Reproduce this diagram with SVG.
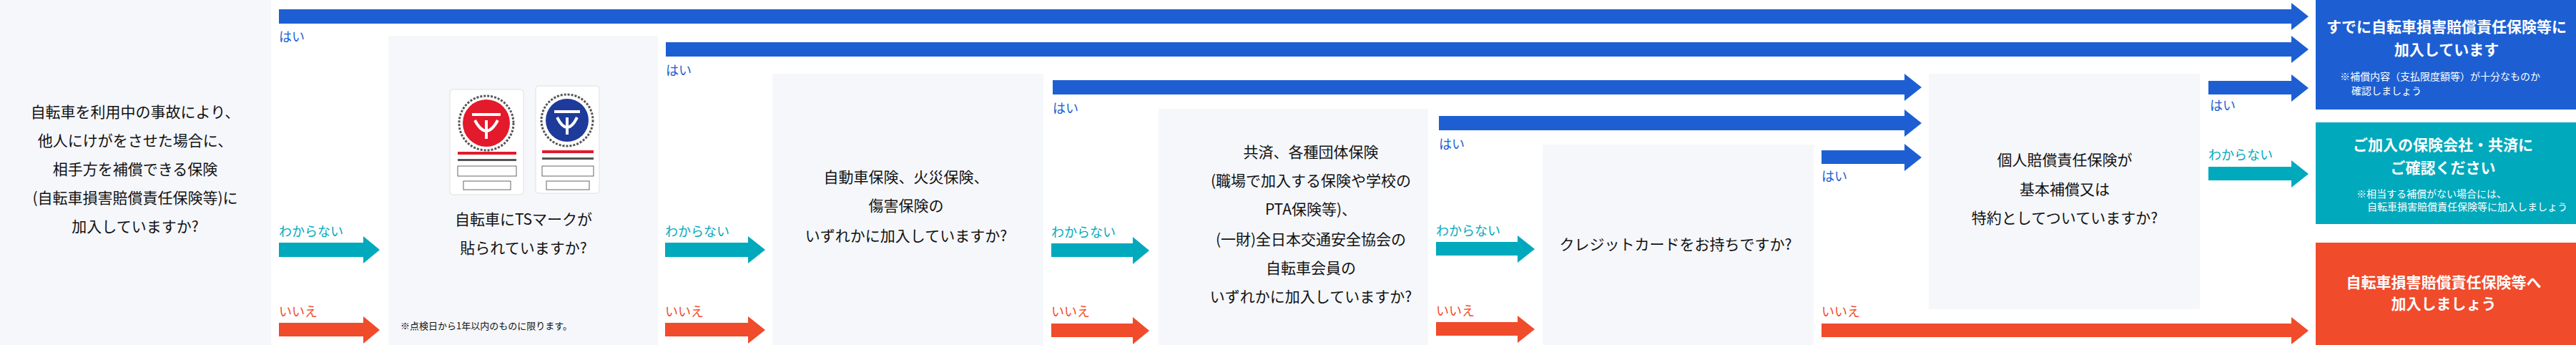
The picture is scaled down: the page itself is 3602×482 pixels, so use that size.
<svg xmlns="http://www.w3.org/2000/svg" width="3602" height="482" viewBox="0 0 3602 482">
<defs>
<style>
text{font-family:"Noto Sans CJK JP","Noto Sans",sans-serif}
.bg{fill:#f5f7fb}
.q{font-size:21px;fill:#111;text-anchor:middle}
.lb{font-size:18px}
.hai{fill:#1d5fd3}.wak{fill:#00a9bc}.iie{fill:#f04b2b}
.ab{fill:#1d5fd3}.at{fill:#00a9bc}.ar{fill:#f04b2b}
.rt{font-size:21px;font-weight:bold;fill:#fff;text-anchor:middle}
.rn{font-size:14px;fill:#fff}
.note{font-size:13px;fill:#111}
</style>
</defs>
<rect width="3602" height="482" fill="#fff"/>
<g id="q1"><rect class="bg" x="0" y="0" width="379" height="482"/>
<text class="q"><tspan x="189" y="164">自転車を利用中の事故により、</tspan><tspan x="189" y="204">他人にけがをさせた場合に、</tspan><tspan x="189" y="244">相手方を補償できる保険</tspan><tspan x="189" y="284">(自転車損害賠償責任保険等)に</tspan><tspan x="189" y="324">加入していますか?</tspan></text></g>
<g id="q2"><rect class="bg" x="543" y="50" width="377" height="432"/>
<rect x="629" y="125" width="103" height="147" rx="4" fill="#fff" stroke="#e0e0e0"/>
<circle cx="680" cy="172" r="33" fill="#e21a2c"/><circle cx="680" cy="172" r="38" fill="none" stroke="#555" stroke-width="3" stroke-dasharray="3 2"/>
<path d="M660 160h40M664 168q16 30 32 0M680 168v26" stroke="#fff" stroke-width="4" fill="none"/>
<rect x="640" y="212" width="82" height="4" fill="#e21a2c"/><rect x="640" y="222" width="82" height="3" fill="#555"/>
<rect x="640" y="232" width="82" height="14" fill="none" stroke="#666"/><rect x="648" y="253" width="66" height="12" fill="none" stroke="#666"/>
<rect x="749" y="120" width="89" height="150" rx="4" fill="#fff" stroke="#e0e0e0"/>
<circle cx="793" cy="168" r="30" fill="#1e3a9a"/><circle cx="793" cy="168" r="36" fill="none" stroke="#555" stroke-width="3" stroke-dasharray="3 2"/>
<path d="M775 156h36M779 164q14 28 28 0M793 164v24" stroke="#fff" stroke-width="4" fill="none"/>
<rect x="758" y="210" width="72" height="4" fill="#e21a2c"/><rect x="758" y="220" width="72" height="3" fill="#555"/>
<rect x="758" y="232" width="72" height="14" fill="none" stroke="#666"/><rect x="764" y="253" width="60" height="12" fill="none" stroke="#666"/>
<text class="q"><tspan x="732" y="314">自転車にTSマークが</tspan><tspan x="732" y="354">貼られていますか?</tspan></text>
<text class="note" x="560" y="460">※点検日から1年以内のものに限ります。</text></g>
<g id="q3"><rect class="bg" x="1080" y="103" width="379" height="379"/>
<text class="q"><tspan x="1267" y="255">自動車保険、火災保険、</tspan><tspan x="1267" y="295">傷害保険の</tspan><tspan x="1267" y="337">いずれかに加入していますか?</tspan></text></g>
<g id="q4"><rect class="bg" x="1620" y="152" width="377" height="330"/>
<text class="q"><tspan x="1833" y="220">共済、各種団体保険</tspan><tspan x="1833" y="260">(職場で加入する保険や学校の</tspan><tspan x="1833" y="300">PTA保険等)、</tspan><tspan x="1833" y="342">(一財)全日本交通安全協会の</tspan><tspan x="1833" y="382">自転車会員の</tspan><tspan x="1833" y="422">いずれかに加入していますか?</tspan></text></g>
<g id="q5"><rect class="bg" x="2157" y="202" width="379" height="280"/>
<text class="q" x="2343" y="349">クレジットカードをお持ちですか?</text></g>
<g id="q6"><rect class="bg" x="2697" y="103" width="379" height="329"/>
<text class="q"><tspan x="2887" y="231">個人賠償責任保険が</tspan><tspan x="2887" y="272">基本補償又は</tspan><tspan x="2887" y="312">特約としてついていますか?</tspan></text></g>
<g id="r1"><rect x="3238" y="0" width="364" height="153" fill="#1d5fd3"/>
<text class="rt"><tspan x="3421" y="45">すでに自転車損害賠償責任保険等に</tspan><tspan x="3421" y="77">加入しています</tspan></text>
<text class="rn"><tspan x="3272" y="112">※補償内容（支払限度額等）が十分なものか</tspan><tspan x="3288" y="132">確認しましょう</tspan></text></g>
<g id="r2"><rect x="3238" y="171" width="364" height="142" fill="#00a9bc"/>
<text class="rt"><tspan x="3416" y="210">ご加入の保険会社・共済に</tspan><tspan x="3416" y="242">ご確認ください</tspan></text>
<text class="rn"><tspan x="3295" y="276">※相当する補償がない場合には、</tspan><tspan x="3310" y="294">自転車損害賠償責任保険等に加入しましょう</tspan></text></g>
<g id="r3"><rect x="3238" y="339" width="364" height="143" fill="#f04b2b"/>
<text class="rt"><tspan x="3417" y="402">自転車損害賠償責任保険等へ</tspan><tspan x="3417" y="432">加入しましょう</tspan></text></g>
<g id="connectors">
<path class="ab" d="M390 13H3204V4L3228 23L3204 42V33H390Z"/>
<path class="ab" d="M931 59H3204V50L3228 69L3204 88V79H931Z"/>
<path class="ab" d="M1472 112H2663V103L2687 122L2663 141V132H1472Z"/>
<path class="ab" d="M2012 162H2663V153L2687 172L2663 191V182H2012Z"/>
<path class="ab" d="M2547 210H2663V201L2687 220L2663 239V229H2547Z"/>
<path class="ab" d="M3088 113H3204V104L3228 123L3204 142V132H3088Z"/>
<path class="at" d="M390 339H508V330L531 349L508 368V359H390Z"/>
<path class="at" d="M930 339H1046V330L1070 349L1046 368V359H930Z"/>
<path class="at" d="M1470 340H1584V331L1607 350L1584 369V359H1470Z"/>
<path class="at" d="M2008 338H2122V329L2146 348L2122 367V357H2008Z"/>
<path class="at" d="M3088 233H3204V224L3228 243L3204 262V252H3088Z"/>
<path class="ar" d="M390 451H508V442L531 461L508 480V470H390Z"/>
<path class="ar" d="M930 451H1046V442L1070 461L1046 480V470H930Z"/>
<path class="ar" d="M1470 452H1584V443L1607 462L1584 481V471H1470Z"/>
<path class="ar" d="M2008 450H2122V441L2146 460L2122 479V469H2008Z"/>
<path class="ar" d="M2547 452H3204V443L3228 462L3204 481V471H2547Z"/>
<g class="lb">
<text class="hai" x="390" y="58">はい</text>
<text class="hai" x="931" y="105">はい</text>
<text class="hai" x="1472" y="158">はい</text>
<text class="hai" x="2012" y="208">はい</text>
<text class="hai" x="2547" y="253">はい</text>
<text class="hai" x="3090" y="154">はい</text>
<text class="wak" x="390" y="330">わからない</text>
<text class="wak" x="930" y="330">わからない</text>
<text class="wak" x="1470" y="331">わからない</text>
<text class="wak" x="2008" y="329">わからない</text>
<text class="wak" x="3088" y="223">わからない</text>
<text class="iie" x="390" y="442">いいえ</text>
<text class="iie" x="930" y="442">いいえ</text>
<text class="iie" x="1470" y="442">いいえ</text>
<text class="iie" x="2008" y="441">いいえ</text>
<text class="iie" x="2547" y="442">いいえ</text>
</g>
</g>
</svg>
